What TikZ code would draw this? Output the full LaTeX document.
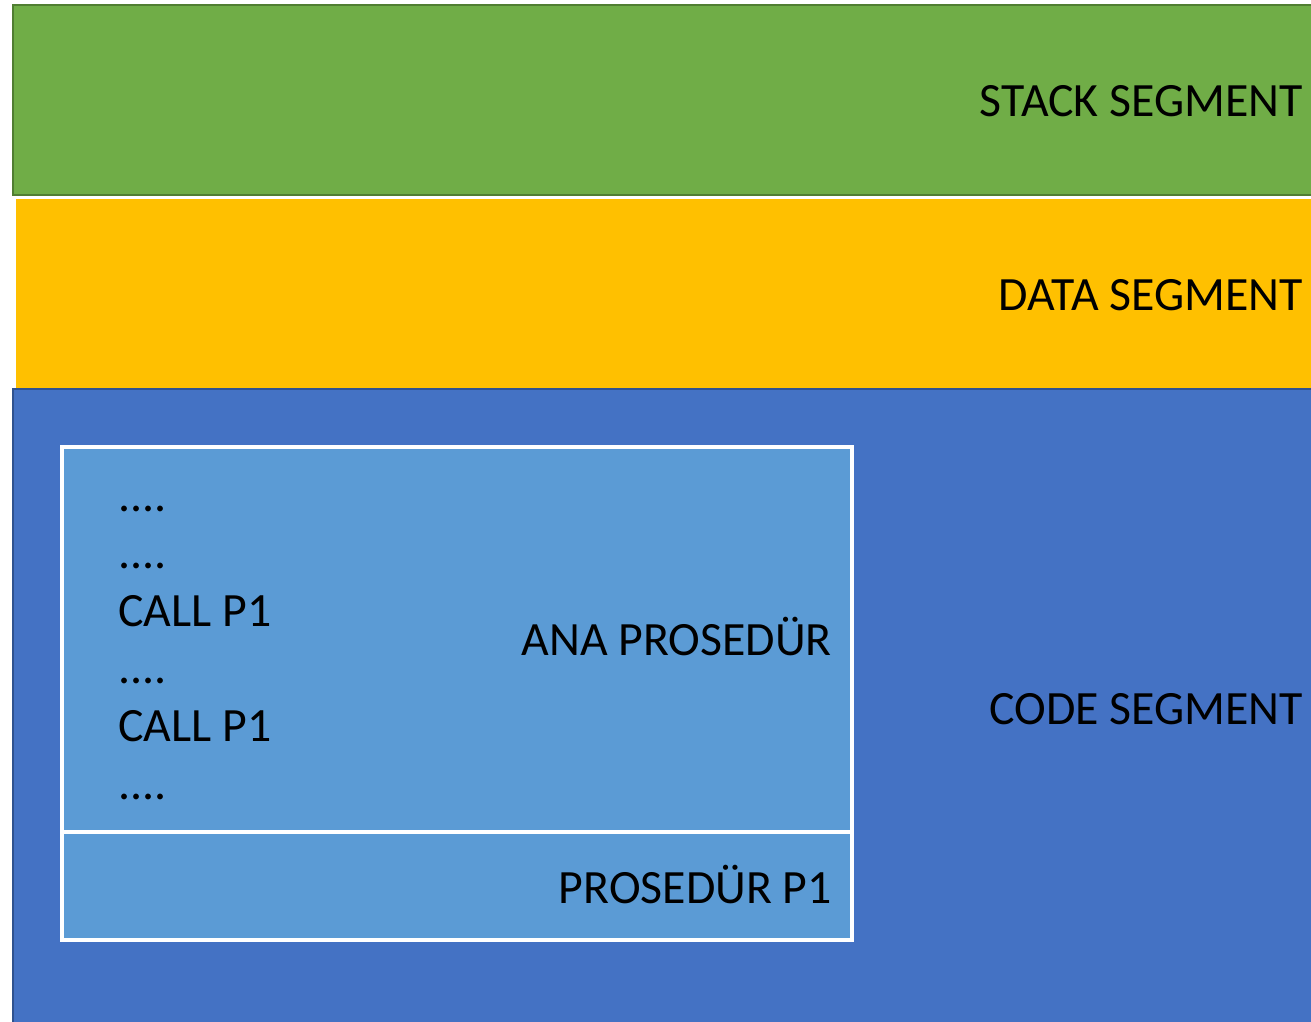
\documentclass[tikz,border=0pt]{standalone}
\usepackage{fontspec}
\setmainfont{Carlito}
\usetikzlibrary{positioning}
\definecolor{stackgreen}{HTML}{70AD47}
\definecolor{stackedge}{HTML}{507E32}
\definecolor{datayellow}{HTML}{FFC000}
\definecolor{codeblue}{HTML}{4472C4}
\definecolor{codeedge}{HTML}{2F528F}
\definecolor{procblue}{HTML}{5B9BD5}
\newcommand{\fourdots}{....}
\tikzset{
    % segment bands
    segment/.style={line width=2pt},
    % procedure boxes inside the code segment
    proc/.style={fill=procblue, draw=white, line width=3.5pt},
    % right aligned captions
    caption/.style={anchor=base east, inner sep=0pt,
           font=\fontsize{47.8}{57}\selectfont},
    % lines of the main procedure
    codeline/.style={anchor=base west, inner sep=0pt,
           font=\fontsize{47.8}{57}\selectfont}
}
\begin{document}
\begin{tikzpicture}[x=1pt,y=-1pt]
  \useasboundingbox (0,0) rectangle (1311,1022);
  \clip (0,0) rectangle (1311,1022);
  % segments
  \filldraw[segment, fill=stackgreen, draw=stackedge] (13,5) rectangle (1320,195);
  \fill[datayellow] (16,199) rectangle (1320,388);
  \filldraw[segment, fill=codeblue, draw=codeedge] (13,389) rectangle (1320,1030);
  % procedures
  \draw[proc] (62,447) rectangle (852,832);
  \draw[proc] (62,832) rectangle (852,940);
  % captions
  \node[caption] (stack) at (1303,117) {STACK SEGMENT};
  \node[caption] (data)  at (1303,310) {DATA SEGMENT};
  \node[caption] (code)  at (1303,724) {CODE SEGMENT};
  \node[caption] (ana)   at (832,655) {ANA PROSEDÜR};
  \node[caption] (p1)    at (832,903) {PROSEDÜR P1};
  % main procedure lines
  \foreach \txt [count=\i] in {\fourdots,\fourdots,CALL P1,\fourdots,CALL P1,\fourdots}
    \node[codeline] (line\i) at (118,{511+57.6*(\i-1)}) {\txt};
\end{tikzpicture}
\end{document}
